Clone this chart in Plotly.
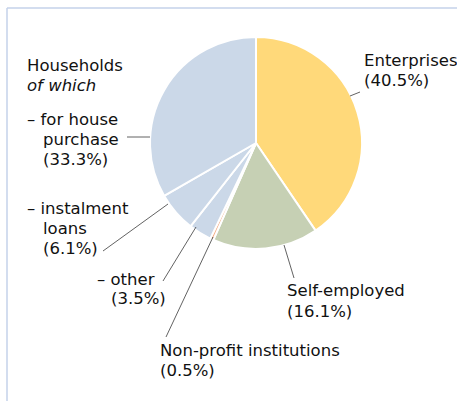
import plotly.graph_objects as go

# Loan breakdown by borrower group (shares in %)
sectors = ["Enterprises", "Self-employed", "Non-profit institutions",
           "Households – other", "Households – instalment loans",
           "Households – for house purchase"]
shares = [40.5, 16.1, 0.5, 3.5, 6.1, 33.3]
colors = ["#ffd97a", "#c6d0b4", "#f4b08a", "#cbd8e8", "#cbd8e8", "#cbd8e8"]

W, H = 457, 401
CX, CY, R = 256, 143, 106  # pie centre / radius in px


def px(x):
    return x / W


def py(y):
    return 1 - y / H


fig = go.Figure(go.Pie(
    labels=sectors,
    values=shares,
    sort=False,
    direction="clockwise",
    rotation=0,
    marker=dict(colors=colors, line=dict(color="white", width=2)),
    textinfo="none",
    hoverinfo="label+percent",
    domain=dict(x=[px(CX - R), px(CX + R)], y=[py(CY + R), py(CY - R)]),
    showlegend=False,
))

FONT = dict(family="DejaVu Sans, sans-serif", size=16.5, color="#111111")


def pct(v):
    return f"({v:.1f}%)"


# each label line: (text, left x, centre y)
lines = [
    ("Enterprises", 362, 60), (pct(shares[0]), 362, 80),
    ("Self-employed", 285, 290), (pct(shares[1]), 285, 311),
    ("Non-profit institutions", 158, 350), (pct(shares[2]), 158, 370),
    ("– other", 95, 279), (pct(shares[3]), 109, 298),
    ("– instalment", 25, 208), ("loans", 41, 228), (pct(shares[4]), 41, 249),
    ("– for house", 25, 119), ("purchase", 41, 139), (pct(shares[5]), 41, 159),
    ("Households", 25, 65), ("<i>of which</i>", 25, 85),
]
annotations = [
    dict(text=t, x=px(x), y=py(y), xref="paper", yref="paper",
         xanchor="left", yanchor="middle", align="left",
         showarrow=False, font=FONT)
    for t, x, y in lines
]

# leader lines from the slices to their labels
leaders = [
    ((350, 96), (360, 92)),
    ((284, 245), (294, 278)),
    ((213, 237), (166, 337)),
    ((196, 227), (163, 281)),
    ((168, 204), (103, 251)),
    ((150, 137), (127, 137)),
]
shapes = []
for (x0, y0), (x1, y1) in leaders:
    shapes.append(dict(type="line", xref="paper", yref="paper",
                       x0=px(x0), y0=py(y0), x1=px(x1), y1=py(y1),
                       line=dict(color="#3a3a3a", width=0.8)))

# light blue frame along top and left
frame = dict(color="#c5d2ea", width=1.5)
shapes.append(dict(type="line", xref="paper", yref="paper",
                   x0=px(7), y0=py(8), x1=1, y1=py(8), line=frame))
shapes.append(dict(type="line", xref="paper", yref="paper",
                   x0=px(7), y0=py(8), x1=px(7), y1=0, line=frame))

fig.update_layout(
    width=W, height=H,
    margin=dict(l=0, r=0, t=0, b=0),
    paper_bgcolor="white", plot_bgcolor="white",
    annotations=annotations, shapes=shapes,
)

fig.write_html("out.html")
